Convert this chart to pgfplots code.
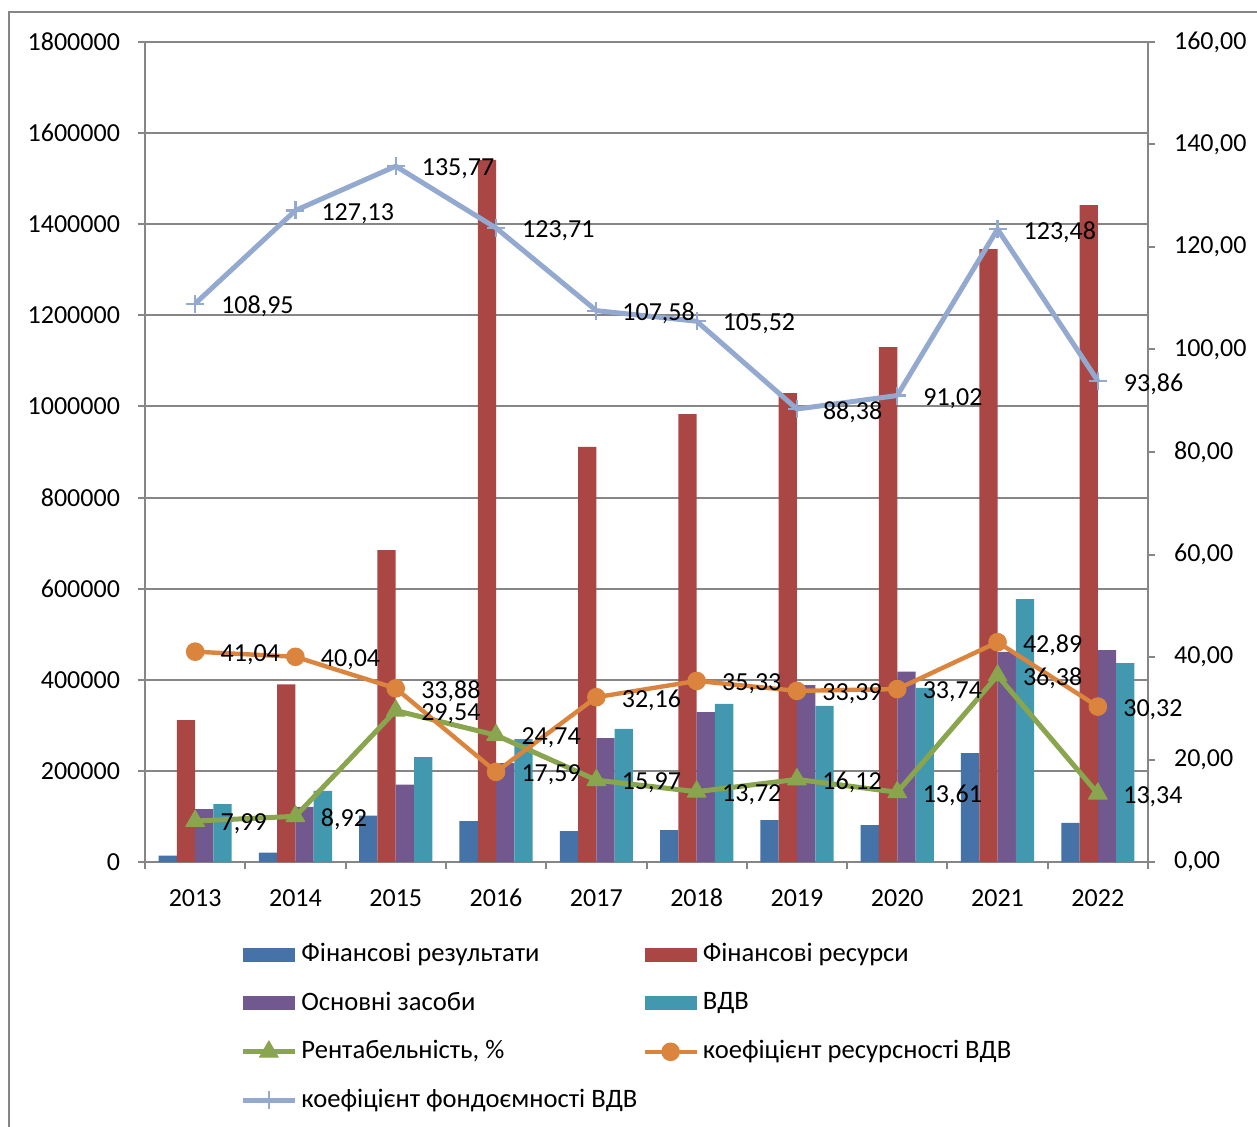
\documentclass[border=0pt]{standalone}
\usepackage{fontspec}
\setmainfont{Carlito}
\usepackage{pgfplots}
\pgfplotsset{compat=1.18}
\definecolor{cblue}{RGB}{69,114,167}
\definecolor{cred}{RGB}{170,70,67}
\definecolor{cpurple}{RGB}{113,88,143}
\definecolor{cteal}{RGB}{65,152,175}
\definecolor{cgreen}{RGB}{137,165,78}
\definecolor{corange}{RGB}{219,132,61}
\definecolor{clblue}{RGB}{147,169,207}
\definecolor{axgray}{RGB}{134,134,134}
\pgfplotsset{
  barlegend/.style={legend image code/.code={\fill[##1] (0pt,-3.5pt) rectangle (26pt,3.5pt);}},
  linelegend/.style={legend image code/.code={\draw[##1,sharp plot,mark repeat=2,mark phase=2] plot coordinates {(0pt,0pt) (13pt,0pt) (26pt,0pt)};}},
  greenline/.style={color=cgreen, line width=2.5pt, line join=round, mark=triangle*, mark size=5.4pt, mark options={line width=0.5pt, fill=cgreen}},
  orangeline/.style={color=corange, line width=2.2pt, line join=round, mark=*, mark size=4.4pt, mark options={line width=0.5pt, fill=corange}},
  blueline/.style={color=clblue, line width=2.5pt, line join=round, mark=+, mark size=4.5pt, mark options={line width=1.1pt}},
}
\begin{document}
\fontsize{13pt}{15.6pt}\selectfont
\begin{tikzpicture}
\useasboundingbox (-72.5pt,-132pt) rectangle (556pt,431pt);
\draw[axgray, line width=1pt] (620pt,425pt) -- (-68.2pt,425pt) -- (-68.2pt,-160pt);
\begin{axis}[
  at={(0pt,0pt)}, anchor=south west,
  scale only axis, width=501.5pt, height=410pt,
  xmin=-0.5, xmax=9.5, ymin=0, ymax=1800000,
  ybar=0pt, bar width=9.15pt,
  ytick={0,200000,...,1800000},
  scaled y ticks=false,
  yticklabel style={/pgf/number format/fixed, /pgf/number format/1000 sep={}, xshift=-4.5pt},
  /pgf/number format/assume math mode=true,
  xtick={-0.5,0.5,...,9.5}, xticklabels={},
  extra x ticks={0,1,2,3,4,5,6,7,8,9},
  extra x tick labels={2013,2014,2015,2016,2017,2018,2019,2020,2021,2022},
  extra x tick style={major tick length=0pt, xticklabel style={yshift=-9pt, text height=8.5pt, text depth=0pt}},
  xtick pos=left, ytick pos=left,
  tick align=outside, major tick length=3.5pt,
  tick style={axgray, line width=1pt},
  axis line style={axgray, line width=1pt},
  ymajorgrids, major grid style={axgray, line width=1pt},
  tick label style={font=\fontsize{13pt}{15.6pt}\selectfont, text=black},
  legend columns=2,
  legend cell align=left,
  legend style={at={(axis description cs:0.0947,-0.094)}, anchor=north west, draw=none, fill=none, inner sep=0pt,
    font=\fontsize{13.3pt}{15.6pt}\selectfont, row sep=9.2pt,
    /tikz/every even column/.append style={column sep=0.5pt}},
]
\addplot[barlegend, fill=cblue, draw=none] coordinates {(0,14000) (1,20400) (2,101600) (3,90000) (4,68000) (5,70000) (6,92000) (7,81000) (8,239000) (9,86000)};
\addlegendentry{Фінансові результати}
\addplot[barlegend, fill=cred, draw=none] coordinates {(0,311700) (1,390000) (2,684800) (3,1541000) (4,911000) (5,983000) (6,1029000) (7,1130000) (8,1345600) (9,1442000)};
\addlegendentry{Фінансові ресурси}
\addplot[barlegend, fill=cpurple, draw=none] coordinates {(0,116300) (1,121000) (2,169700) (3,217000) (4,272000) (5,329000) (6,388500) (7,417700) (8,461000) (9,465000)};
\addlegendentry{Основні засоби}
\addplot[barlegend, fill=cteal, draw=none] coordinates {(0,127300) (1,156000) (2,230500) (3,270000) (4,292000) (5,347000) (6,343000) (7,382000) (8,577000) (9,436800)};
\addlegendentry{ВДВ}
\addlegendimage{linelegend, greenline}
\addlegendentry{Рентабельність, \%}
\addlegendimage{linelegend, orangeline}
\addlegendentry{коефіцієнт ресурсності ВДВ}
\addlegendimage{linelegend, blueline}
\addlegendentry{коефіцієнт фондоємності ВДВ}
\end{axis}
\begin{axis}[
  at={(0pt,0pt)}, anchor=south west,
  scale only axis, width=501.5pt, height=410pt,
  xmin=-0.5, xmax=9.5, ymin=0, ymax=160,
  hide x axis,
  axis y line*=right,
  ytick={0,20,...,160},
  yticklabel style={/pgf/number format/.cd, fixed, fixed zerofill, precision=2, use comma, /tikz/.cd, xshift=5pt},
  /pgf/number format/assume math mode=true,
  tick align=outside, major tick length=3.5pt,
  tick style={axgray, line width=1pt},
  axis line style={axgray, line width=1pt},
  tick label style={font=\fontsize{13pt}{15.6pt}\selectfont, text=black},
  clip=false,
  point meta=explicit symbolic,
  nodes near coords,
  every node near coord/.append style={anchor=west, xshift=12.5pt, yshift=-1.5pt, inner sep=0pt, text=black, font=\fontsize{13pt}{15.6pt}\selectfont},
]
\addplot[greenline] coordinates {(0,7.99)[7,99] (1,8.92)[8,92] (2,29.54)[29,54] (3,24.74)[24,74] (4,15.97)[15,97] (5,13.72)[13,72] (6,16.12)[16,12] (7,13.61)[13,61] (8,36.38)[36,38] (9,13.34)[13,34]};
\addplot[orangeline] coordinates {(0,41.04)[41,04] (1,40.04)[40,04] (2,33.88)[33,88] (3,17.59)[17,59] (4,32.16)[32,16] (5,35.33)[35,33] (6,33.39)[33,39] (7,33.74)[33,74] (8,42.89)[42,89] (9,30.32)[30,32]};
\addplot[blueline] coordinates {(0,108.95)[108,95] (1,127.13)[127,13] (2,135.77)[135,77] (3,123.71)[123,71] (4,107.58)[107,58] (5,105.52)[105,52] (6,88.38)[88,38] (7,91.02)[91,02] (8,123.48)[123,48] (9,93.86)[93,86]};
\end{axis}
\end{tikzpicture}
\end{document}
